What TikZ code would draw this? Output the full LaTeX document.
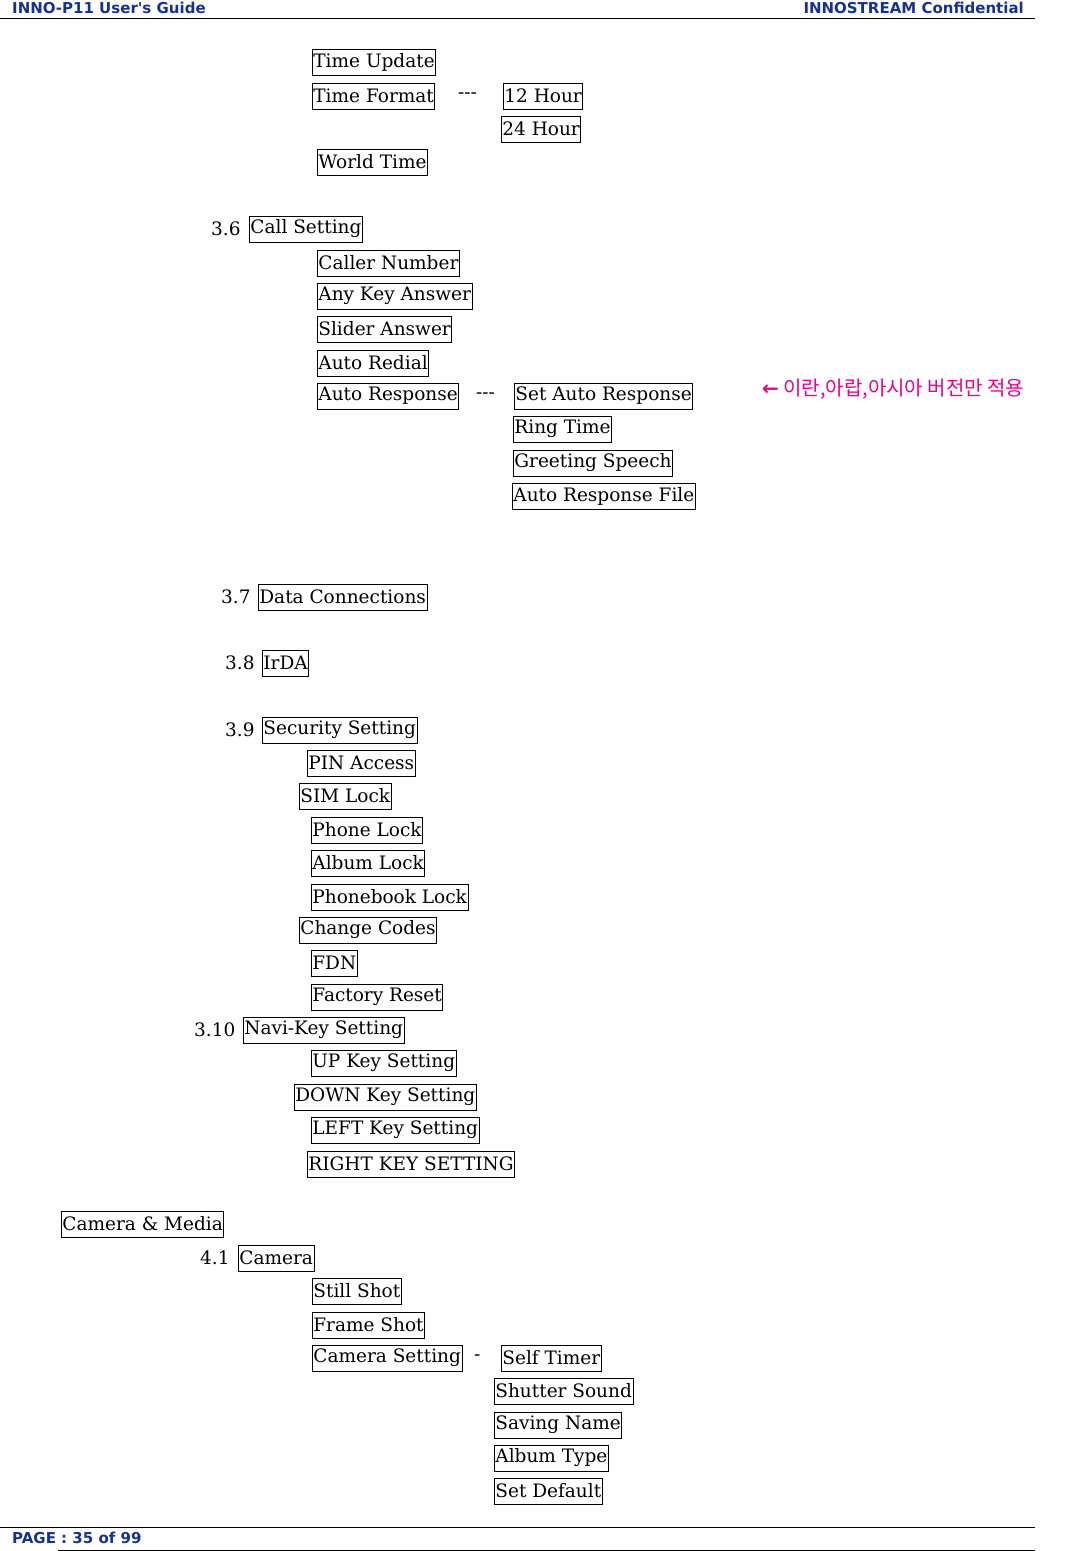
\documentclass[tikz,border=0pt]{standalone}
\usepackage{fontspec}
\setmainfont{DejaVu Serif}
\newfontfamily\hdr{DejaVu Sans}
\newfontfamily\kr{Noto Sans CJK KR}
\definecolor{hblue}{RGB}{20,50,150}
\begin{document}
\begin{tikzpicture}[x=1pt,y=-1pt,
  bx/.style={draw,line width=0.8pt,anchor=west,inner xsep=1pt,inner ysep=0pt,minimum height=26pt,font=\fontsize{18.5}{20}\selectfont},
  tx/.style={anchor=west,inner sep=0pt,font=\fontsize{18.5}{20}\selectfont},
  hd/.style={inner sep=0pt,text=hblue,font=\hdr\bfseries\fontsize{15}{17}\selectfont}]
\useasboundingbox (0,0) rectangle (1092,1551);
\node[hd,anchor=west] (h1) at (12,8) {INNO-P11 User's Guide};
\node[hd,anchor=east] (h2) at (1024,8) {INNOSTREAM Confidential};
\draw[line width=0.6pt] (0,18) -- (1035,18);
\draw[line width=0.6pt] (0,1527) -- (1035,1527);
\draw[line width=0.6pt] (58,1550) -- (1035,1550);
\node[hd,anchor=west] (ft) at (12,1538) {PAGE : 35 of 99};

\node[bx] (a1) at (312,62) {Time Update};
\node[bx] (a2) at (312,96) {Time Format\ };
\node[tx] (d1) at (458,96) {{-}{-}{-}};
\node[bx] (a3) at (503,96) {12 Hour};
\node[bx] (a4) at (501,129) {24 Hour};
\node[bx] (a5) at (317,162) {World Time};
\node[tx] (n36) at (211,229) {3.6};
\node[bx] (b0) at (249,229) {Call Setting};
\node[bx] (b1) at (317,263) {Caller Number};
\node[bx] (b2) at (317,296) {Any Key Answer};
\node[bx] (b3) at (317,329) {Slider Answer};
\node[bx] (b4) at (317,363) {Auto Redial};
\node[bx] (b5) at (317,396) {Auto Response\ };
\node[tx] (d2) at (476,396) {{-}{-}{-}};
\node[bx] (b6) at (514,396) {Set Auto Response};
\node[bx] (b7) at (513,429) {Ring Time};
\node[bx] (b8) at (513,463) {Greeting Speech};
\node[bx] (b9) at (512,496) {Auto Response File};
\node[anchor=west,inner sep=0pt,text=magenta,font=\kr\fontsize{20}{22}\selectfont] (kn) at (762,389) {{\hdr\bfseries ←} 이란,아랍,아시아 버전만 적용};
\node[tx] (n37) at (221,597) {3.7};
\node[bx] (c0) at (258,597) {Data Connections};
\node[tx] (n38) at (225,663) {3.8};
\node[bx] (c1) at (262,663) {IrDA};
\node[tx] (n39) at (225,730) {3.9};
\node[bx] (e0) at (262,730) {Security Setting};
\node[bx] (e1) at (307,763) {PIN Access};
\node[bx] (e2) at (299,796) {SIM Lock};
\node[bx] (e3) at (311,830) {Phone Lock};
\node[bx] (e4) at (311,863) {Album Lock};
\node[bx] (e5) at (311,897) {Phonebook Lock};
\node[bx] (e6) at (299,930) {Change Codes};
\node[bx] (e7) at (311,963) {FDN};
\node[bx] (e8) at (311,997) {Factory Reset};
\node[tx] (n310) at (194,1030) {3.10};
\node[bx] (f0) at (243,1030) {Navi-Key Setting};
\node[bx] (f1) at (311,1063) {UP Key Setting};
\node[bx] (f2) at (294,1097) {DOWN Key Setting};
\node[bx] (f3) at (311,1130) {LEFT Key Setting};
\node[bx] (f4) at (307,1164) {RIGHT KEY SETTING};
\node[bx] (g0) at (61,1224) {Camera \& Media};
\node[tx] (n41) at (200,1258) {4.1};
\node[bx] (g1) at (238,1258) {Camera};
\node[bx] (g2) at (312,1291) {Still Shot};
\node[bx] (g3) at (312,1325) {Frame Shot};
\node[bx] (g4) at (312,1358) {Camera Setting};
\node[tx] (d3) at (474,1358) {-};
\node[bx] (g5) at (501,1358) {Self Timer};
\node[bx] (g6) at (494,1391) {Shutter Sound};
\node[bx] (g7) at (494,1425) {Saving Name};
\node[bx] (g8) at (494,1458) {Album Type};
\node[bx] (g9) at (494,1491) {Set Default};
\end{tikzpicture}
\end{document}
